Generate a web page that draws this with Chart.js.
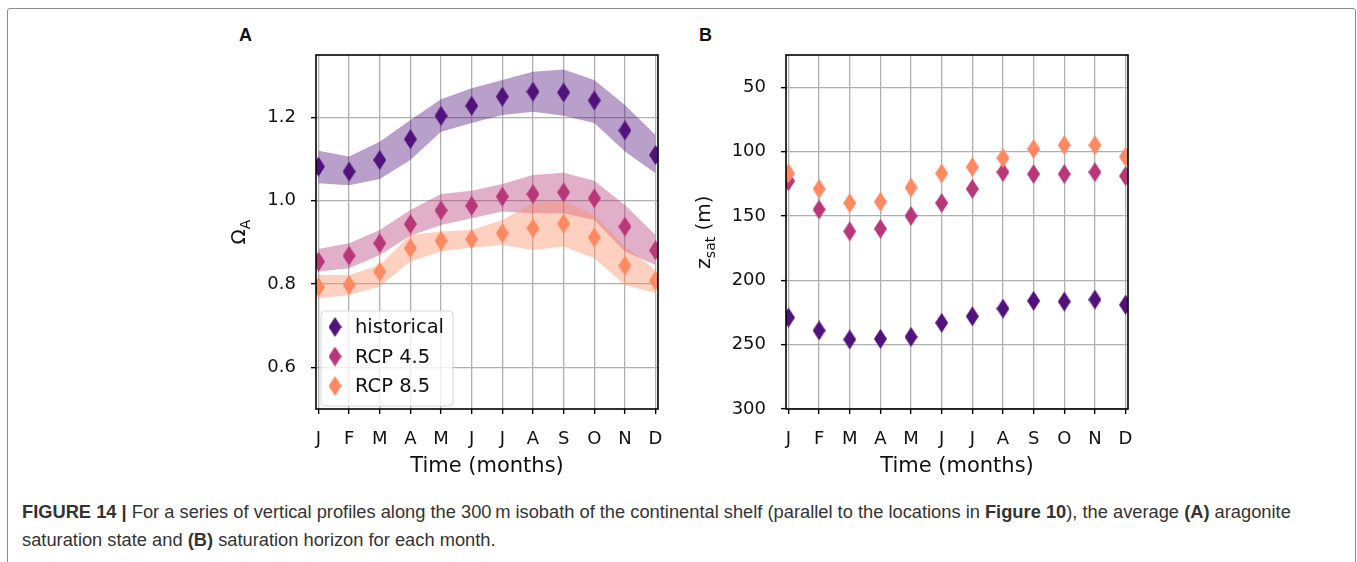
<!DOCTYPE html>
<html>
<head>
<meta charset="utf-8">
<script src="https://cdn.jsdelivr.net/npm/chart.js@4.4.0/dist/chart.umd.min.js"></script>
<style>
body{margin:0;width:1357px;height:562px;overflow:hidden;background:#fff;position:relative;font-family:'DejaVu Sans',sans-serif}
#frame{position:absolute;left:7px;top:8px;width:1347px;height:600px;border:1.5px solid #8a8a8a;border-radius:3px}
.panel{position:absolute;top:0;width:480px;height:490px}
.tag{position:absolute;top:25px;font:bold 18px 'Liberation Sans',Arial,sans-serif;color:#111}
#caption{position:absolute;left:22px;top:498px;font:18.3px/28px 'Liberation Sans',Arial,sans-serif;color:#333;white-space:nowrap}
</style>
</head>
<body>
<div id="frame"></div>
<div class="tag" style="left:239px">A</div>
<div class="tag" style="left:699px">B</div>
<div class="panel" style="left:200px"><canvas id="chartA" width="480" height="490"></canvas></div>
<div class="panel" style="left:670px"><canvas id="chartB" width="480" height="490"></canvas></div>
<div id="caption"><b>FIGURE 14 |</b> For a series of vertical profiles along the 300&thinsp;m isobath of the continental shelf (parallel to the locations in <b>Figure 10</b>), the average <b>(A)</b> aragonite<br>saturation state and <b>(B)</b> saturation horizon for each month.</div>
<script>
// Month labels on the x axis
const months = ['J', 'F', 'M', 'A', 'M', 'J', 'J', 'A', 'S', 'O', 'N', 'D'];
const seriesNames = ['historical', 'RCP 4.5', 'RCP 8.5'];

// Panel A: aragonite saturation state (mean and spread)
const histA = [1.082, 1.070, 1.098, 1.148, 1.204, 1.228, 1.250, 1.262, 1.260, 1.241, 1.169, 1.110];
const histALow = [1.042, 1.037, 1.052, 1.098, 1.166, 1.187, 1.206, 1.214, 1.204, 1.187, 1.118, 1.066];
const histAHigh = [1.120, 1.106, 1.142, 1.194, 1.244, 1.270, 1.290, 1.310, 1.315, 1.290, 1.230, 1.158];
const rcp45A = [0.854, 0.868, 0.898, 0.944, 0.977, 0.988, 1.010, 1.016, 1.020, 1.006, 0.938, 0.881];
const rcp45ALow = [0.830, 0.838, 0.870, 0.916, 0.942, 0.958, 0.974, 0.970, 0.970, 0.954, 0.878, 0.846];
const rcp45AHigh = [0.884, 0.898, 0.930, 0.978, 1.016, 1.024, 1.040, 1.062, 1.067, 1.048, 0.990, 0.918];
const rcp85A = [0.793, 0.798, 0.830, 0.886, 0.904, 0.908, 0.922, 0.934, 0.945, 0.912, 0.844, 0.808];
const rcp85ALow = [0.766, 0.774, 0.794, 0.854, 0.878, 0.888, 0.894, 0.882, 0.890, 0.862, 0.798, 0.778];
const rcp85AHigh = [0.822, 0.822, 0.846, 0.918, 0.926, 0.930, 0.954, 0.994, 1.000, 0.966, 0.890, 0.834];
const yTicksA = [0.6, 0.8, 1.0, 1.2];

// Panel B: saturation horizon depth (m)
const histB = [229, 239, 246, 245.5, 244, 233, 228, 222, 216, 216.5, 215, 219];
const rcp45B = [123, 145, 162, 160, 150, 140, 129, 116, 117.5, 117.5, 116, 119];
const rcp85B = [117, 129, 140, 139, 128, 117, 112, 105, 98, 95, 95, 104];
const yTicksB = [50, 100, 150, 200, 250, 300];

const colors = ['#51127c', '#b73779', '#fc8961'];
const bandColors = ['rgba(81,18,124,0.4)', 'rgba(183,55,121,0.4)', 'rgba(252,137,97,0.4)'];

// thin diamond marker like matplotlib 'd'
function diamond(color) {
    const c = document.createElement('canvas');
    c.width = 13;
    c.height = 20;
    const ctx = c.getContext('2d');
    ctx.fillStyle = color;
    ctx.beginPath();
    ctx.moveTo(6.5, 0);
    ctx.lineTo(13, 10);
    ctx.lineTo(6.5, 20);
    ctx.lineTo(0, 10);
    ctx.closePath();
    ctx.fill();
    return c;
}
const markers = colors.map(diamond);

const toXY = arr => arr.map((v, i) => ({x: i, y: v}));

function pointSet(i, values) {
    return {
        label: seriesNames[i],
        inLegend: true,
        data: toXY(values),
        showLine: false,
        pointStyle: markers[i],
        pointRadius: 6,
        pointHoverRadius: 6,
        backgroundColor: colors[i],
        borderColor: colors[i],
        order: 2 - i,
        clip: 0
    };
}

function bandSets(i, low, high) {
    const common = {borderWidth: 0, borderColor: 'transparent', pointRadius: 0, tension: 0, clip: 0};
    return [
        Object.assign({label: seriesNames[i] + ' high', data: toXY(high), fill: '+1', backgroundColor: bandColors[i], order: 10 - i}, common),
        Object.assign({label: seriesNames[i] + ' low', data: toXY(low), fill: false, order: 3}, common)
    ];
}

// spines, in-axes legend and y title with subscript
const decor = {
    id: 'decor',
    afterDatasetsDraw(chart, args, opts) {
        const {ctx, chartArea: a} = chart;
        ctx.save();
        ctx.strokeStyle = '#000';
        ctx.lineWidth = 1.6;
        ctx.strokeRect(a.left, a.top, a.right - a.left, a.bottom - a.top);
        ctx.restore();
    },
    afterDraw(chart, args, opts) {
        const {ctx, chartArea: a} = chart;
        // y axis title
        ctx.save();
        ctx.translate(opts.titleX, (a.top + a.bottom) / 2);
        ctx.rotate(-Math.PI / 2);
        ctx.fillStyle = '#111';
        ctx.textBaseline = 'alphabetic';
        const mainFont = "20px 'DejaVu Sans'";
        const subFont = "14px 'DejaVu Sans'";
        ctx.font = mainFont;
        const w1 = ctx.measureText(opts.main).width;
        const w3 = opts.tail ? ctx.measureText(opts.tail).width : 0;
        ctx.font = subFont;
        const w2 = ctx.measureText(opts.sub).width;
        let x = -(w1 + w2 + w3) / 2;
        ctx.font = mainFont;
        ctx.fillText(opts.main, x, 0);
        ctx.font = subFont;
        ctx.fillText(opts.sub, x + w1, 5);
        if (opts.tail) {
            ctx.font = mainFont;
            ctx.fillText(opts.tail, x + w1 + w2, 0);
        }
        ctx.restore();

        if (!opts.legend) return;
        const items = chart.data.datasets.filter(d => d.inLegend);
        const bx = a.left + 5, bw = 132, bh = 95, by = a.bottom - 3 - bh;
        ctx.save();
        ctx.beginPath();
        ctx.roundRect(bx, by, bw, bh, 4);
        ctx.fillStyle = 'rgba(255,255,255,0.8)';
        ctx.fill();
        ctx.strokeStyle = '#d6d6d6';
        ctx.lineWidth = 1;
        ctx.stroke();
        ctx.font = "19.5px 'DejaVu Sans'";
        ctx.textBaseline = 'middle';
        ctx.fillStyle = '#111';
        items.forEach((d, k) => {
            const cy = by + 16 + k * 29.5;
            const m = d.pointStyle;
            ctx.drawImage(m, bx + 14 - m.width / 2, cy - m.height / 2);
            ctx.fillText(d.label, bx + 34, cy + 1);
        });
        ctx.restore();
    }
};

function makeOptions(yMin, yMax, yTicks, reverse, decorOpts) {
    return {
        responsive: false,
        animation: false,
        devicePixelRatio: 1,
        layout: {padding: {top: 55, right: 22, left: 0, bottom: 0}},
        plugins: {
            legend: {display: false},
            tooltip: {enabled: false},
            decor: decorOpts
        },
        scales: {
            x: {
                type: 'linear',
                min: -0.08,
                max: 11.08,
                afterBuildTicks: s => { s.ticks = months.map((m, i) => ({value: i})); },
                afterFit: s => { s.height = 81; },
                grid: {color: '#b0b0b0', lineWidth: 1.3, tickColor: '#000', tickLength: 5, tickWidth: 1.4},
                border: {display: false},
                ticks: {
                    callback: v => months[v],
                    color: '#111',
                    font: {family: 'DejaVu Sans', size: 18},
                    padding: 15,
                    maxRotation: 0,
                    autoSkip: false
                },
                title: {
                    display: true,
                    text: 'Time (months)',
                    color: '#111',
                    font: {family: 'DejaVu Sans', size: 21},
                    padding: {top: 0, bottom: 11}
                }
            },
            y: {
                type: 'linear',
                min: yMin,
                max: yMax,
                reverse: reverse,
                afterBuildTicks: s => { s.ticks = yTicks.map(v => ({value: v})); },
                afterFit: s => { s.width = 116; },
                grid: {color: '#b0b0b0', lineWidth: 1.3, tickColor: '#000', tickLength: 5, tickWidth: 1.4},
                border: {display: false},
                ticks: {
                    callback: v => (yMax < 5 ? v.toFixed(1) : String(v)),
                    color: '#111',
                    font: {family: 'DejaVu Sans', size: 18},
                    padding: 15
                }
            }
        }
    };
}

new Chart(document.getElementById('chartA'), {
    type: 'line',
    data: {
        datasets: [
            pointSet(0, histA),
            pointSet(1, rcp45A),
            pointSet(2, rcp85A),
            ...bandSets(0, histALow, histAHigh),
            ...bandSets(1, rcp45ALow, rcp45AHigh),
            ...bandSets(2, rcp85ALow, rcp85AHigh)
        ]
    },
    options: makeOptions(0.5, 1.35, yTicksA, false, {titleX: 45, main: 'Ω', sub: 'A', legend: true}),
    plugins: [decor]
});

new Chart(document.getElementById('chartB'), {
    type: 'line',
    data: {
        datasets: [
            pointSet(0, histB),
            pointSet(1, rcp45B),
            pointSet(2, rcp85B)
        ]
    },
    options: makeOptions(25, 300, yTicksB, true, {titleX: 40, main: 'z', sub: 'sat', tail: ' (m)', legend: false}),
    plugins: [decor]
});
</script>
</body>
</html>
